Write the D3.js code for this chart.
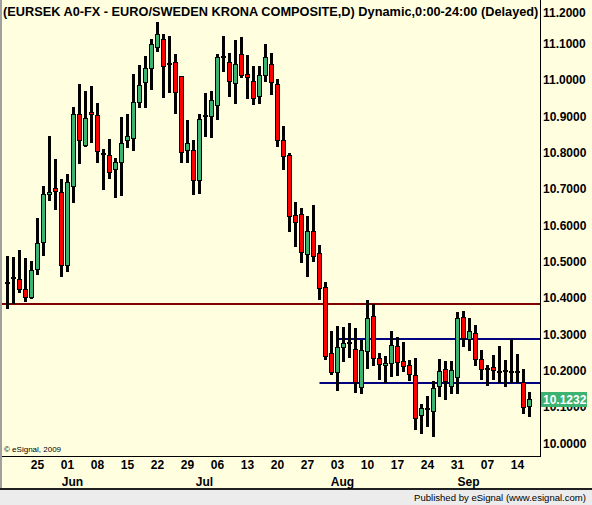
<!DOCTYPE html>
<html><head><meta charset="utf-8">
<script src="https://cdn.jsdelivr.net/npm/d3@7/dist/d3.min.js"></script>
<style>html,body{margin:0;padding:0;background:#fff;overflow:hidden}svg{display:block}text{font-family:"Liberation Sans",Arial,sans-serif}</style>
</head><body><svg id="c" width="592" height="505"></svg>
<script>
const dates = [
"05-18","05-19","05-20","05-21","05-22","05-25","05-26","05-27","05-28","05-29",
"06-01","06-02","06-03","06-04","06-05","06-08","06-09","06-10","06-11","06-12",
"06-15","06-16","06-17","06-18","06-19","06-22","06-23","06-24","06-25","06-26",
"06-29","06-30","07-01","07-02","07-03","07-06","07-07","07-08","07-09","07-10",
"07-13","07-14","07-15","07-16","07-17","07-20","07-21","07-22","07-23","07-24",
"07-27","07-28","07-29","07-30","07-31","08-03","08-04","08-05","08-06","08-07",
"08-10","08-11","08-12","08-13","08-14","08-17","08-18","08-19","08-20","08-21",
"08-24","08-25","08-26","08-27","08-28","08-31","09-01","09-02","09-03","09-04",
"09-07","09-08","09-09","09-10","09-11","09-14","09-15","09-16"];
const openV = [
10.4421,10.4558,10.4514,10.4239,10.4035,10.4789,10.5533,10.6854,10.7019,10.6917,
10.4899,10.7074,10.9056,10.8219,10.9111,10.9028,10.7971,10.7927,10.7542,10.7735,
10.8340,10.8395,10.9403,10.9937,11.0322,11.0917,11.1128,11.0440,11.0487,11.0102,
10.8073,10.8065,10.7239,10.9009,10.9017,10.9303,11.0641,11.0487,10.9909,11.0707,
11.0157,10.9964,10.9551,11.0129,11.0432,10.9890,10.8348,10.7936,10.6284,10.6312,
10.5202,10.5844,10.5238,10.4302,10.2494,10.1971,10.2659,10.2769,10.2596,10.1541,
10.2549,10.3504,10.2348,10.2147,10.2219,10.2678,10.2265,10.2155,10.1880,10.0787,
10.0944,10.0897,10.1585,10.2045,10.1585,10.1833,10.3476,10.2879,10.3036,10.2320,
10.2045,10.2092,10.1963,10.1990,10.1963,10.1971,10.1687,10.1027];
const highV = [
10.5155,10.5128,10.5321,10.5100,10.5018,10.6201,10.7082,10.8459,10.7825,10.7275,
10.7404,10.9248,10.9890,10.9697,10.9835,10.9367,10.8101,10.8368,10.7845,10.8973,
10.9064,11.0165,11.0413,11.0669,11.1128,11.1588,11.1258,11.1211,11.0716,11.0110,
10.8899,10.8348,10.9064,10.9642,10.9697,11.0716,11.1211,11.0735,11.1101,11.1175,
11.0688,11.0385,11.0385,11.0991,11.0735,11.0019,10.8734,10.7991,10.6642,10.6477,
10.6257,10.6559,10.5458,10.4440,10.3091,10.3229,10.3201,10.3311,10.3182,10.2852,
10.3944,10.3834,10.2486,10.2403,10.3091,10.2926,10.2788,10.2293,10.2348,10.1082,
10.1302,10.1715,10.2320,10.2265,10.2265,10.3614,10.3642,10.3449,10.3256,10.2568,
10.2155,10.2430,10.2678,10.2293,10.2871,10.2458,10.2045,10.1412];
const lowV = [
10.3716,10.3854,10.4173,10.3925,10.4008,10.4668,10.5191,10.6705,10.6457,10.4605,
10.4751,10.6650,10.7724,10.8191,10.8302,10.7751,10.7008,10.7311,10.6788,10.6843,
10.8164,10.8073,10.9257,10.9265,10.9752,11.0806,10.9540,10.9661,10.9100,10.7751,
10.7751,10.6854,10.6898,10.8459,10.8439,10.8935,11.0256,10.9560,10.9359,11.0091,
10.9513,10.9331,10.9375,10.9972,10.9615,10.8191,10.7559,10.5852,10.5439,10.4999,
10.4613,10.5026,10.3964,10.2312,10.1899,10.1467,10.2274,10.2375,10.1420,10.1393,
10.2081,10.2164,10.1770,10.1679,10.1852,10.1880,10.1990,10.1742,10.0394,10.0284,
10.0476,10.0201,10.1302,10.1219,10.1385,10.1385,10.2678,10.2568,10.2155,10.1770,
10.1605,10.1770,10.1687,10.1577,10.1687,10.1687,10.0834,10.0751];
const closeV = [
10.4421,10.4558,10.4239,10.4035,10.4762,10.5505,10.6862,10.6917,10.6953,10.4916,
10.7192,10.9056,10.8340,10.8946,10.9056,10.8037,10.7971,10.7459,10.7735,10.8258,
10.8450,10.9386,10.9854,11.0322,11.0991,11.1258,11.0385,11.0440,10.9670,10.8026,
10.8258,10.7239,10.8926,10.9009,10.9449,11.0625,11.0641,10.9981,11.0432,11.0137,
11.0074,10.9505,11.0129,11.0625,10.9937,10.8348,10.7916,10.6265,10.6083,10.5257,
10.5844,10.5164,10.4266,10.2411,10.1971,10.2651,10.2761,10.2769,10.1687,10.2568,
10.3449,10.2356,10.2191,10.2210,10.2706,10.2246,10.2136,10.1916,10.0705,10.0972,
10.0944,10.1522,10.1990,10.1715,10.2018,10.3449,10.2907,10.3091,10.2329,10.2053,
10.2045,10.2009,10.1963,10.1990,10.1963,10.1971,10.0991,10.1232];
const yTicks = [10.0,10.1,10.2,10.3,10.4,10.5,10.6,10.7,10.8,10.9,11.0,11.1,11.2];
const weekTicks = ["05-25","06-01","06-08","06-15","06-22","06-29","07-06","07-13","07-20","07-27","08-03","08-10","08-17","08-24","08-31","09-07","09-14"];
const monthNames = ["Jun","Jul","Aug","Sep"];
const monthStarts = ["06-01","07-01","08-03","09-01"];
const levelValues = [10.3835, 10.2871, 10.1660];
const levelStarts = [null, "08-03", "07-29"];
const lastPrice = 10.1232;
const titleText = "(EURSEK A0-FX - EURO/SWEDEN KRONA COMPOSITE,D) Dynamic,0:00-24:00 (Delayed)";
const copyText = "\u00A9 eSignal, 2009";
const statusText = "Published by eSignal (www.esignal.com)";

const W = 592, H = 505;
const plotL = 2, plotR = 540, plotB = 456;
const svg = d3.select("#c");
const x = d3.scalePoint().domain(dates).range([7.5, 529.5]);
const y = d3.scaleLinear().domain([10, 11.2]).range([443.3, 7.3]);
const yy = v => Math.round(y(v));
const BG = "#ffffe0", GREEN = "#3cb371", RED = "#ff0000";
const levelColors = ["#800000", "#000080", "#000080"];

svg.append("rect").attr("width", W).attr("height", H).attr("fill", BG);
// status bar
svg.append("rect").attr("x", 0).attr("y", 489).attr("width", W).attr("height", H - 489).attr("fill", "#ececec");
svg.append("rect").attr("x", 0).attr("y", 488).attr("width", W).attr("height", 2).attr("fill", "#202020");
svg.append("rect").attr("x", 0).attr("y", 0).attr("width", 2).attr("height", 488).attr("fill", "#a0a0a0");

const data = dates.map((d, i) => ({d, o: openV[i], h: highV[i], l: lowV[i], c: closeV[i]}));

svg.append("clipPath").attr("id", "pc").append("rect")
  .attr("x", plotL).attr("y", 0).attr("width", plotR - plotL).attr("height", plotB);
const g = svg.append("g").attr("clip-path", "url(#pc)");

// level lines
levelValues.forEach((v, i) => {
  const x0 = levelStarts[i] ? x(levelStarts[i]) : plotL;
  g.append("rect").attr("x", x0).attr("y", yy(v) - 1).attr("width", plotR - x0).attr("height", 2)
    .attr("fill", levelColors[i]);
});

// candles
const cg = g.selectAll("g.k").data(data).join("g").attr("class", "k");
cg.append("rect")
  .attr("x", d => x(d.d) - 1.5).attr("y", d => yy(d.h))
  .attr("width", 3).attr("height", d => yy(d.l) - yy(d.h) + 1).attr("fill", "#000");
cg.each(function(d) {
  const s = d3.select(this), cx = x(d.d);
  if (Math.abs(d.o - d.c) < 0.0005) {
    s.append("rect").attr("x", cx - 2.5).attr("y", yy(d.o) - 1).attr("width", 5).attr("height", 2).attr("fill", "#000");
  } else {
    const top = yy(Math.max(d.o, d.c)), bot = yy(Math.min(d.o, d.c));
    s.append("rect").attr("x", cx - 2).attr("y", top + 0.5).attr("width", 4).attr("height", Math.max(1, bot - top))
      .attr("fill", d.c > d.o ? GREEN : RED).attr("stroke", "#000").attr("stroke-width", 1);
  }
});

// frame
svg.append("rect").attr("x", plotR).attr("y", 0).attr("width", 1).attr("height", plotB + 1).attr("fill", "#000");
svg.append("rect").attr("x", plotL).attr("y", plotB).attr("width", plotR - plotL + 1).attr("height", 1).attr("fill", "#000");

// y axis labels
svg.append("g").selectAll("text").data(yTicks).join("text")
  .attr("x", 543).attr("y", v => Math.max(y(v), 12.7)).attr("dy", "0.36em")
  .attr("font-size", 12).attr("font-weight", "bold").attr("fill", "#000")
  .text(d3.format(".4f"));

// last price box
const ly = yy(lastPrice);
svg.append("rect").attr("x", 541).attr("y", ly - 7).attr("width", 46).attr("height", 15).attr("fill", GREEN);
svg.append("text").attr("x", 543).attr("y", ly + 0.5).attr("dy", "0.36em")
  .attr("font-size", 12).attr("font-weight", "bold").attr("fill", "#fff").text(d3.format(".4f")(lastPrice));

// x axis labels
svg.append("g").selectAll("text").data(weekTicks).join("text")
  .attr("x", d => x(d)).attr("y", 469).attr("text-anchor", "middle")
  .attr("font-size", 12).attr("font-weight", "bold").text(d => d.slice(3));
svg.append("g").selectAll("text").data(monthNames).join("text")
  .attr("x", (d, i) => x(monthStarts[i]) + 5).attr("y", 486).attr("text-anchor", "middle")
  .attr("font-size", 12).attr("font-weight", "bold").text(d => d);

// title
const t = svg.append("text").attr("x", 3).attr("y", 15.5).attr("font-size", 13).attr("font-weight", "bold").text(titleText);
const tw = t.node().getComputedTextLength();
if (tw > 0) t.attr("font-size", 13 * 536 / tw);

svg.append("text").attr("x", 4).attr("y", 452).attr("font-size", 8).text(copyText);
const st = svg.append("text").attr("x", 586).attr("y", 500.5).attr("text-anchor", "end").attr("font-size", 11).text(statusText);
const sw = st.node().getComputedTextLength();
if (sw > 0) st.attr("font-size", 11 * 172 / sw);
</script></body></html>
